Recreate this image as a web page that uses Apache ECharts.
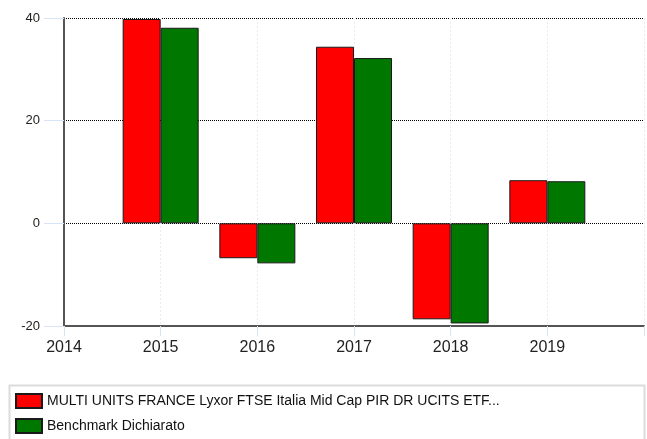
<!DOCTYPE html>
<html>
<head>
<meta charset="utf-8">
<script src="https://cdn.jsdelivr.net/npm/echarts@6/dist/echarts.min.js"></script>
<style>
  html, body { margin: 0; padding: 0; background: #fff; }
  #chart { width: 647px; height: 439px; }
</style>
</head>
<body>
<div id="chart"></div>
<script>
// years shown on the x axis and the values
var years = [2015, 2016, 2017, 2018, 2019];
var fundValues = [39.8, -6.8, 34.4, -18.7, 8.4];
var benchValues = [38.1, -7.8, 32.2, -19.5, 8.2];
var fundName = "MULTI UNITS FRANCE Lyxor FTSE Italia Mid Cap PIR DR UCITS ETF...";
var benchName = "Benchmark Dichiarato";

function pairs(vals) {
  return years.map(function (y, i) { return [y, vals[i]]; });
}

var chart = echarts.init(document.getElementById("chart"));

var option = {
  animation: false,
  textStyle: { fontFamily: "Liberation Sans, Arial, sans-serif" },
  grid: { left: 64, right: 2, top: 18, bottom: 113 },
  xAxis: {
    type: "value",
    min: 2014,
    max: 2020,
    interval: 1,
    axisLine: { onZero: false, lineStyle: { color: "#555", width: 2 } },
    axisTick: { show: true, length: 10, lineStyle: { color: "#d6e4f5" } },
    axisLabel: {
      fontSize: 16,
      color: "#222",
      margin: 14,
      formatter: function (v) { return v === 2020 ? "" : String(v); }
    },
    splitLine: { show: true, lineStyle: { color: "#e3ecf8", type: [2, 2] } }
  },
  yAxis: {
    type: "value",
    min: -20,
    max: 40,
    interval: 20,
    axisLine: { show: true, onZero: false, lineStyle: { color: "#555", width: 2 } },
    axisTick: { show: true, length: 20, lineStyle: { color: "#d6e4f5" } },
    axisLabel: { fontSize: 13, color: "#222", margin: 24 },
    splitLine: { show: true, lineStyle: { color: "#000", type: [1, 1] } }
  },
  legend: {
    orient: "vertical",
    left: 15,
    top: 393,
    padding: 0,
    itemWidth: 26,
    itemHeight: 14,
    itemGap: 9,
    icon: "rect",
    textStyle: { fontSize: 14, color: "#111", lineHeight: 14 },
    data: [fundName, benchName]
  },
  graphic: [{
    type: "rect",
    left: 7,
    top: 383,
    shape: { width: 635, height: 70 },
    style: { fill: "none", stroke: "#dcdcdc", lineWidth: 2 },
    silent: true
  }],
  series: [
    {
      name: fundName,
      type: "bar",
      barWidth: 38,
      barGap: "0%",
      itemStyle: { color: "#ff0000", borderColor: "#1a1a1a", borderWidth: 1 },
      data: pairs(fundValues)
    },
    {
      name: benchName,
      type: "bar",
      barWidth: 38,
      barGap: "0%",
      itemStyle: { color: "#007800", borderColor: "#1a1a1a", borderWidth: 1 },
      data: pairs(benchValues)
    }
  ]
};

chart.setOption(option);
</script>
</body>
</html>
